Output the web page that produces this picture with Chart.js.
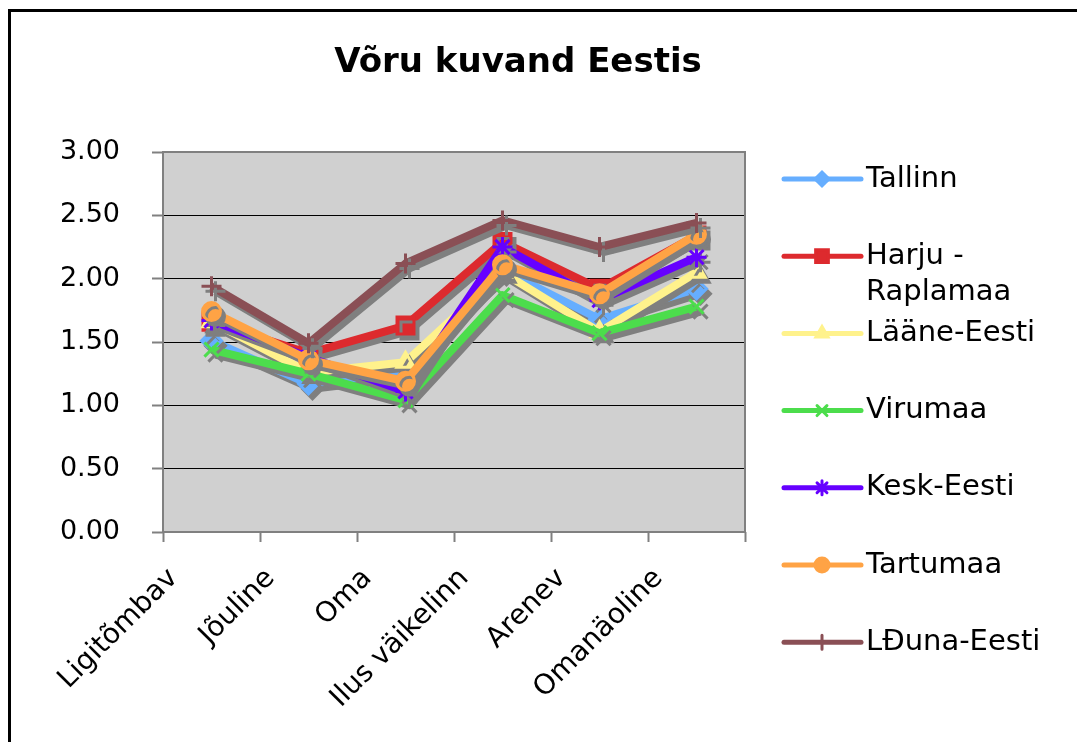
<!DOCTYPE html>
<html>
<head>
<meta charset="utf-8">
<script src="https://cdn.jsdelivr.net/npm/chart.js@4"></script>
<style>
  html, body { margin: 0; padding: 0; background: #fff; overflow: hidden; }
  #wrap { position: relative; width: 1077px; height: 742px; }
  #frame { position: absolute; left: 8px; top: 9px; width: 2000px; height: 2000px; border: 3px solid #000; box-sizing: border-box; }
  canvas { position: absolute; left: 0; top: 0; }
</style>
</head>
<body>
<div id="wrap">
  <div id="frame"></div>
  <canvas id="myChart" width="1077" height="742"></canvas>
</div>
<script>
const categories = ["Ligitõmbav", "Jõuline", "Oma", "Ilus väikelinn", "Arenev", "Omanäoline"];
const yTicks = [0, 0.5, 1, 1.5, 2, 2.5, 3];

const tallinn  = [1.51, 1.17, 1.26, 2.07, 1.68, 1.92];
const harju    = [1.66, 1.41, 1.63, 2.29, 1.92, 2.34];
const laane    = [1.66, 1.26, 1.34, 2.05, 1.58, 2.05];
const virumaa  = [1.44, 1.25, 1.04, 1.87, 1.57, 1.78];
const kesk     = [1.67, 1.38, 1.11, 2.25, 1.83, 2.17];
const tartumaa = [1.74, 1.36, 1.19, 2.11, 1.88, 2.35];
const louna    = [1.94, 1.49, 2.12, 2.46, 2.25, 2.44];

const seriesNames = ["Tallinn", ["Harju -", "Raplamaa"], "Lääne-Eesti", "Virumaa", "Kesk-Eesti", "Tartumaa", "LĐuna-Eesti"];
const seriesData = [tallinn, harju, laane, virumaa, kesk, tartumaa, louna];
const seriesColors = ["#66AEFF", "#DD2A2E", "#FFF28C", "#4CDD4C", "#6600FF", "#FFA345", "#8A4F55"];
const seriesMarkers = ["rectRot", "rect", "triangle", "crossRot", "star", "circle", "cross"];
const markerSizes = [10, 12, 10, 10, 10, 9, 10];

const FONT = "'DejaVu Sans', Verdana, sans-serif";

// plot background and frame
const plotBg = {
  id: "plotBg",
  beforeDraw(chart) {
    const { ctx, chartArea: a } = chart;
    ctx.save();
    ctx.fillStyle = "#D0D0D0";
    ctx.fillRect(a.left, a.top, a.right - a.left, a.bottom - a.top);
    ctx.restore();
  },
  beforeDatasetsDraw(chart) {
    const { ctx, chartArea: a } = chart;
    ctx.save();
    ctx.strokeStyle = "#808080";
    ctx.lineWidth = 2;
    ctx.strokeRect(a.left, a.top, a.right - a.left, a.bottom - a.top);
    ctx.restore();
  }
};

// gray drop shadow like the Excel original
const shadow = {
  id: "shadow",
  beforeDatasetDraw(chart) {
    const ctx = chart.ctx;
    ctx.save();
    ctx.shadowColor = "#7F7F7F";
    ctx.shadowOffsetX = 4;
    ctx.shadowOffsetY = 5;
    ctx.shadowBlur = 0;
  },
  afterDatasetDraw(chart) {
    chart.ctx.restore();
  }
};

// title and legend drawn on the right side
const sideLegend = {
  id: "sideLegend",
  afterDraw(chart) {
    const ctx = chart.ctx;
    ctx.save();
    ctx.fillStyle = "#000";
    ctx.font = "bold 34px " + FONT;
    ctx.textAlign = "center";
    ctx.textBaseline = "alphabetic";
    ctx.fillText("Võru kuvand Eestis", 518, 72);

    ctx.font = "29px " + FONT;
    ctx.textAlign = "left";
    ctx.textBaseline = "middle";
    chart.data.datasets.forEach((ds, i) => {
      const y = 179 + i * 77.2;
      ctx.strokeStyle = ds.borderColor;
      ctx.lineWidth = 5;
      ctx.lineCap = "round";
      ctx.beginPath();
      ctx.moveTo(784, y);
      ctx.lineTo(861, y);
      ctx.stroke();
      ctx.fillStyle = ds.borderColor;
      ctx.lineWidth = 3;
      Chart.helpers.drawPoint(ctx, { pointStyle: ds.pointStyle, radius: ds.pointStyle === "rect" ? 9 : 7, rotation: 0, borderWidth: 3 }, 822, y);
      ctx.fillStyle = "#000";
      const lines = Array.isArray(ds.label) ? ds.label : [ds.label];
      lines.forEach((t, k) => ctx.fillText(t, 866, y + k * 36));
    });
    ctx.restore();
  }
};

const datasets = seriesData.map((d, i) => ({
  label: seriesNames[i],
  data: d,
  borderColor: seriesColors[i],
  backgroundColor: seriesColors[i],
  pointBackgroundColor: seriesColors[i],
  pointBorderColor: seriesColors[i],
  pointStyle: seriesMarkers[i],
  pointRadius: markerSizes[i],
  pointBorderWidth: 3,
  borderWidth: 8,
  borderJoinStyle: "round",
  order: seriesData.length - i,
  fill: false,
  tension: 0
}));

const ctx = document.getElementById("myChart").getContext("2d");
const myChart = new Chart(ctx, {
  type: "line",
  data: { labels: categories, datasets: datasets },
  options: {
    responsive: false,
    animation: false,
    events: [],
    layout: { padding: { top: 152, right: 332, bottom: 0, left: 0 } },
    plugins: {
      legend: { display: false },
      title: { display: false },
      tooltip: { enabled: false }
    },
    scales: {
      x: {
        offset: true,
        afterFit(scale) { scale.height = 210; },
        grid: {
          offset: true,
          drawOnChartArea: false,
          drawTicks: true,
          tickLength: 10,
          tickColor: "#808080",
          tickWidth: 2
        },
        border: { display: false },
        ticks: {
          color: "#000",
          font: { family: FONT, size: 28 },
          minRotation: 45,
          maxRotation: 45,
          padding: 20,
          labelOffset: -38,
          autoSkip: false
        }
      },
      y: {
        min: 0,
        max: 3,
        afterFit(scale) { scale.width = 163; },
        afterBuildTicks(scale) { scale.ticks = yTicks.map(v => ({ value: v })); },
        grid: {
          color: "#000",
          lineWidth: 1,
          drawTicks: true,
          tickLength: 11,
          tickColor: "#808080",
          tickWidth: 2
        },
        border: { display: false },
        ticks: {
          color: "#000",
          font: { family: FONT, size: 27 },
          padding: 32,
          callback: v => Number(v).toFixed(2)
        }
      }
    }
  },
  plugins: [plotBg, shadow, sideLegend]
});
</script>
</body>
</html>
